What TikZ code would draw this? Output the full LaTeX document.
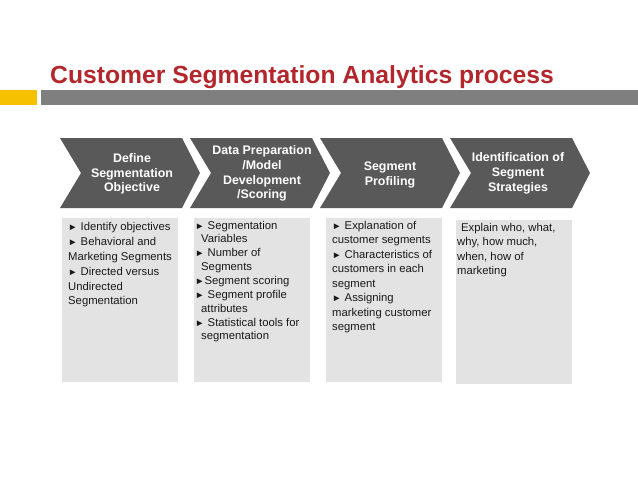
\documentclass[tikz,border=0pt]{standalone}
\usepackage{fontspec}
\setmainfont{Liberation Sans}
\usepackage{xcolor}
\usetikzlibrary{positioning}
\definecolor{titlered}{RGB}{178,38,44}
\definecolor{baryellow}{RGB}{246,194,0}
\definecolor{bargray}{RGB}{127,127,127}
\definecolor{chevgray}{RGB}{89,89,89}
\definecolor{boxgray}{RGB}{227,227,227}
\newcommand{\ptr}{{\fontsize{9.5}{9.5}\selectfont\raisebox{0.3pt}{►}}}

\begin{document}
\begin{tikzpicture}[x=1pt,y=-1pt]
    \tikzstyle{chev}=[fill=chevgray]
    \tikzstyle{steptext}=[text=white, font=\bfseries\fontsize{12.4}{14.7}\selectfont, align=center, inner sep=0]
    \tikzstyle{listbox}=[fill=boxgray, minimum width=116pt, minimum height=164pt, anchor=north west, inner sep=0]
    \tikzstyle{listtext}=[text=black!90, font=\fontsize{11.3}{14.5}\selectfont, align=left, anchor=north west, inner sep=0]
    \useasboundingbox (0,0) rectangle (638,479);

    \node [anchor=base west, inner sep=0, text=titlered, font=\bfseries\fontsize{24.7}{29}\selectfont] (title) at (50,83.5) {Customer Segmentation Analytics process};
    \fill [baryellow] (0,89.5) rectangle (37,105);
    \fill [bargray] (41,89.5) rectangle (638,105);

    \foreach \x in {60,190,320,450}
        \fill [chev] (\x,138) -- (\x+122,138) -- (\x+140,173) -- (\x+122,208) -- (\x,208) -- (\x+21,173) -- cycle;

    \node [steptext] (s1) at (132,174) {Define\\ Segmentation\\ Objective};
    \node [steptext] (s2) at (262,173.5) {Data Preparation\\ /Model\\ Development\\ /Scoring};
    \node [steptext] (s3) at (390,175) {Segment\\ Profiling};
    \node [steptext] (s4) at (518,173.5) {Identification of\\ Segment\\ Strategies};

    \node [listbox] (b1) at (62,218) {};
    \node [listbox] (b2) at (194,218) {};
    \node [listbox] (b3) at (326,218) {};
    \node [listbox] (b4) at (456,220) {};

    \node [listtext] (t1) at (68,222) {\ptr{} Identify objectives\\[1pt] \ptr{} Behavioral and\\ Marketing Segments\\[1pt] \ptr{} Directed versus\\ Undirected\\ Segmentation};
    \node [listtext, font=\fontsize{11.3}{13.3}\selectfont] (t2) at (195,221) {\ptr{} Segmentation\\ \hspace*{6pt}Variables\\[1pt] \ptr{} Number of\\ \hspace*{6pt}Segments\\[1pt] \ptr{}Segment scoring\\[1pt] \ptr{} Segment profile\\ \hspace*{6pt}attributes\\[1pt] \ptr{} Statistical tools for\\ \hspace*{6pt}segmentation};
    \node [listtext] (t3) at (332,221) {\ptr{} Explanation of\\ customer segments\\ \ptr{} Characteristics of\\ customers in each\\ segment\\ \ptr{} Assigning\\ marketing customer\\ segment};
    \node [listtext] (t4) at (457,223) {\hspace*{4pt}Explain who, what,\\ why, how much,\\ when, how of\\ marketing};
\end{tikzpicture}
\end{document}
